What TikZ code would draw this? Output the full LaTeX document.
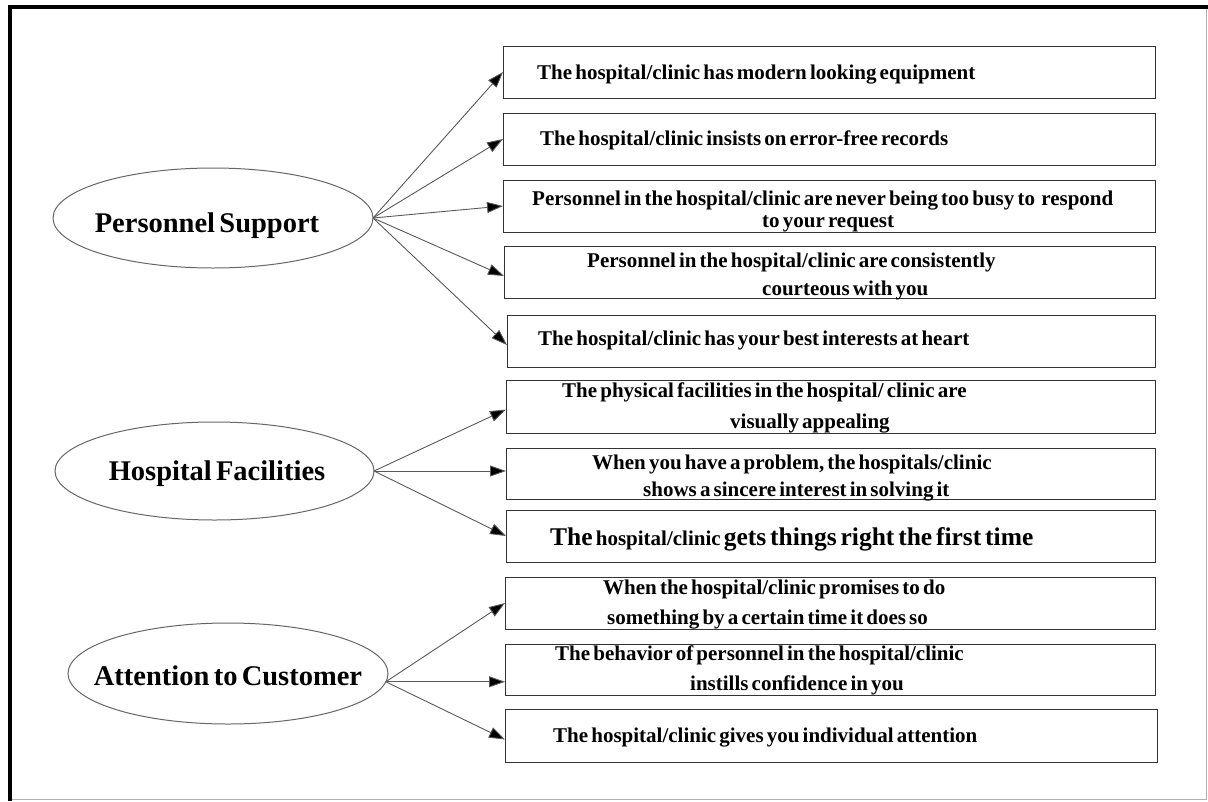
\documentclass[tikz,border=0pt]{standalone}
\usepackage{fontspec}
\setmainfont{Liberation Serif}[WordSpace=0.6]
\usetikzlibrary{arrows.meta,shapes.geometric}
\begin{document}
\begin{tikzpicture}[x=1pt,y=-1pt,
  box/.style={draw=black!80, line width=1pt, rectangle, inner sep=0pt, outer sep=0pt},
  cat/.style={draw=black!60, line width=1pt, ellipse, inner sep=0pt, outer sep=0pt},
  itm/.style={anchor=base west, inner sep=0pt, font=\bfseries\fontsize{21}{23}\selectfont},
  cattxt/.style={anchor=base, inner sep=0pt, font=\bfseries\fontsize{28.5}{30}\selectfont},
  arr/.style={draw=black!65, line width=0.9pt, -{Triangle[length=16pt,width=11pt,fill=black]}}]
\useasboundingbox (0,0) rectangle (1208,801);
% frame
\fill[black] (8,5) rectangle (1208,9);
\fill[black] (8,5) rectangle (12,801);
\draw[black!30, line width=1pt] (1206,9) -- (1206,799) -- (12,799);

% category ellipses
\node[cat, minimum width=320pt, minimum height=100pt] (e1) at (213,218) {};
\node[cat, minimum width=319pt, minimum height=98pt] (e2) at (214.5,471) {};
\node[cat, minimum width=320pt, minimum height=101pt] (e3) at (228,673.5) {};
\node[cattxt] (c1) at (207,232) {Personnel Support};
\node[cattxt] (c2) at (217,480) {Hospital Facilities};
\node[cattxt] (c3) at (228,685) {Attention to Customer};

% item boxes
\node[box, minimum width=652pt, minimum height=52pt] (b1) at (829,72) {};
\node[box, minimum width=652pt, minimum height=52pt] (b2) at (829,139) {};
\node[box, minimum width=652pt, minimum height=52pt] (b3) at (829,206) {};
\node[box, minimum width=651pt, minimum height=52pt] (b4) at (829.5,272) {};
\node[box, minimum width=648pt, minimum height=52pt] (b5) at (831,341) {};
\node[box, minimum width=649pt, minimum height=53pt] (b6) at (830.5,406.5) {};
\node[box, minimum width=649pt, minimum height=51pt] (b7) at (830.5,473.5) {};
\node[box, minimum width=649pt, minimum height=52pt] (b8) at (830.5,536) {};
\node[box, minimum width=650pt, minimum height=52pt] (b9) at (830,603) {};
\node[box, minimum width=650pt, minimum height=51pt] (b10) at (830,669.5) {};
\node[box, minimum width=652pt, minimum height=53pt] (b11) at (831,735.5) {};

% item texts
\node[itm] (t1) at (537,79) {The hospital/clinic has modern looking equipment};
\node[itm] (t2) at (540,145) {The hospital/clinic insists on error-free records};
\node[itm] (t3a) at (532,205) {Personnel in the hospital/clinic are never being too busy to\ \ respond};
\node[itm] (t3b) at (762,227) {to your request};
\node[itm] (t4a) at (587,267) {Personnel in the hospital/clinic are consistently};
\node[itm] (t4b) at (762,295) {courteous with you};
\node[itm] (t5) at (538,345) {The hospital/clinic has your best interests at heart};
\node[itm] (t6a) at (562,397) {The physical facilities in the hospital/ clinic are};
\node[itm] (t6b) at (730,428) {visually appealing};
\node[itm] (t7a) at (592,469) {When you have a problem, the hospitals/clinic};
\node[itm] (t7b) at (643,496) {shows a sincere interest in solving it};
\node[itm] (t8) at (550,545) {{\fontsize{25.5}{27}\selectfont The} hospital/clinic {\fontsize{25.5}{27}\selectfont gets things right the first time}};
\node[itm] (t9a) at (603,594) {When the hospital/clinic promises to do};
\node[itm] (t9b) at (607,624) {something by a certain time it does so};
\node[itm] (t10a) at (555,660) {The behavior of personnel in the hospital/clinic};
\node[itm] (t10b) at (690,690) {instills confidence in you};
\node[itm] (t11) at (553,742) {The hospital/clinic gives you individual attention};

% connectors
\draw[arr] (e1.east) -- (b1.west);
\draw[arr] (e1.east) -- (b2.west);
\draw[arr] (e1.east) -- (b3.west);
\draw[arr] (e1.east) -- ([yshift=-4pt]b4.west);
\draw[arr] (e1.east) -- ([yshift=-4pt]b5.west);
\draw[arr] (e2.east) -- ([yshift=-3pt]b6.west);
\draw[arr] (e2.east) -- (e2.east -| b7.west);
\draw[arr] (e2.east) -- (b8.west);
\draw[arr] (e3.-3) -- (b9.west);
\draw[arr] (e3.-3) -- (e3.-3 -| b10.west);
\draw[arr] (e3.-3) -- ([yshift=-4pt]b11.west);
\end{tikzpicture}
\end{document}
